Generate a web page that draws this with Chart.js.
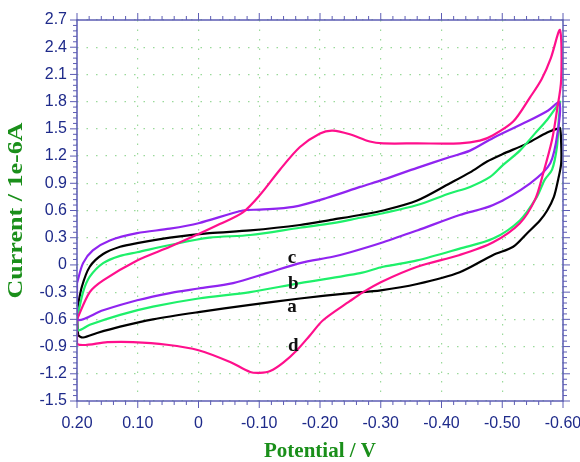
<!DOCTYPE html>
<html>
<head>
<meta charset="utf-8">
<script src="https://cdn.jsdelivr.net/npm/chart.js@4/dist/chart.umd.min.js"></script>
<style>
  body { margin: 0; background: #fff; }
  #wrap { width: 580px; height: 462px; position: relative; }
</style>
</head>
<body>
<div id="wrap"><canvas id="cv"></canvas></div>
<script>
'use strict'
// tick values
let xTicks = [0.2, 0.1, 0, -0.1, -0.2, -0.3, -0.4, -0.5, -0.6];
let yTicks = [-1.5, -1.2, -0.9, -0.6, -0.3, 0, 0.3, 0.6, 0.9, 1.2, 1.5, 1.8, 2.1, 2.4, 2.7];

// curve a (black)
let aV = [0.2, 0.192, 0.179, 0.157, 0.129, 0.101, 0.047, -0.018, -0.085, -0.167, -0.221, -0.266, -0.304, -0.36, -0.414, -0.447, -0.475, -0.5, -0.541, -0.574, -0.59, -0.595,
  -0.597, -0.597, -0.592, -0.585, -0.574, -0.562, -0.541, -0.518, -0.485, -0.43, -0.36, -0.3, -0.25, -0.167, -0.085, 0, 0.075, 0.129, 0.167, 0.19, 0.198, 0.2];
let aI = [-0.5, -0.24, -0.02, 0.12, 0.2, 0.24, 0.3, 0.35, 0.38, 0.44, 0.5, 0.55, 0.6, 0.71, 0.9, 1.02, 1.14, 1.22, 1.34, 1.46, 1.5, 1.51,
  1.34, 1.12, 0.94, 0.75, 0.6, 0.49, 0.35, 0.2, 0.11, -0.08, -0.21, -0.28, -0.31, -0.37, -0.44, -0.52, -0.6, -0.68, -0.75, -0.8, -0.77, -0.5];

// curve b (green)
let bV = [0.2, 0.19, 0.179, 0.157, 0.129, 0.101, 0.047, -0.018, -0.085, -0.167, -0.221, -0.266, -0.304, -0.36, -0.414, -0.447, -0.48, -0.501, -0.529, -0.554, -0.574, -0.59, -0.595,
  -0.593, -0.59, -0.582, -0.57, -0.557, -0.529, -0.485, -0.43, -0.36, -0.304, -0.266, -0.167, -0.085, 0, 0.075, 0.129, 0.179, 0.198, 0.2];
let bI = [-0.6, -0.3, -0.13, 0.02, 0.1, 0.14, 0.22, 0.3, 0.33, 0.41, 0.46, 0.52, 0.57, 0.66, 0.79, 0.86, 0.97, 1.1, 1.26, 1.45, 1.6, 1.75, 1.8,
  1.6, 1.3, 1.05, 0.94, 0.75, 0.49, 0.29, 0.18, 0.05, -0.02, -0.09, -0.2, -0.3, -0.37, -0.46, -0.55, -0.66, -0.72, -0.6];

// curve c (purple)
let cV = [0.2, 0.19, 0.174, 0.146, 0.101, 0.047, 0, -0.073, -0.101, -0.156, -0.212, -0.266, -0.304, -0.36, -0.414, -0.447, -0.485, -0.541, -0.575, -0.594,
  -0.592, -0.579, -0.546, -0.485, -0.43, -0.36, -0.304, -0.25, -0.221, -0.167, -0.113, -0.057, 0, 0.047, 0.101, 0.157, 0.2, 0.2];
let cI = [-0.2, 0.02, 0.16, 0.27, 0.35, 0.4, 0.46, 0.6, 0.61, 0.64, 0.74, 0.86, 0.94, 1.07, 1.19, 1.26, 1.4, 1.58, 1.7, 1.79,
  1.5, 1.12, 0.9, 0.66, 0.55, 0.38, 0.25, 0.14, 0.09, 0.02, -0.09, -0.2, -0.26, -0.31, -0.39, -0.5, -0.6, -0.2];

// curve d (magenta)
let dV = [0.2, 0.179, 0.157, 0.101, 0.047, 0, -0.035, -0.073, -0.101, -0.134, -0.167, -0.2, -0.221, -0.249, -0.282, -0.304, -0.36, -0.43, -0.463, -0.485, -0.518, -0.546, -0.565, -0.58, -0.595,
  -0.597, -0.59, -0.582, -0.567, -0.554, -0.529, -0.485, -0.43, -0.36, -0.3, -0.271, -0.249, -0.205, -0.183, -0.162, -0.139, -0.118, -0.101, -0.085, -0.052, 0, 0.052, 0.108, 0.15, 0.2, 0.2];
let dI = [-0.6, -0.3, -0.17, 0.05, 0.2, 0.34, 0.45, 0.58, 0.77, 1.05, 1.3, 1.45, 1.48, 1.44, 1.36, 1.34, 1.34, 1.34, 1.37, 1.43, 1.58, 1.85, 2.05, 2.28, 2.59,
  2.04, 1.7, 1.38, 1.0, 0.72, 0.46, 0.25, 0.11, -0.02, -0.19, -0.3, -0.4, -0.61, -0.78, -0.94, -1.08, -1.17, -1.19, -1.18, -1.07, -0.94, -0.88, -0.85, -0.85, -0.87, -0.6];

let curveNames = ['a', 'b', 'c', 'd'];
let xTitle = 'Potential / V';
let yTitle = 'Current / 1e-6A';

function pts(vs, is) {
  return vs.map(function (v, i) { return { x: v, y: is[i] }; });
}

let axisColor = '#5c5cb4';
let tickColor = '#1e2a8a';
let titleColor = '#1a8f1a';
let titleFont = 'bold 21px "Liberation Serif", "Times New Roman", serif';

// box + minor ticks + axis titles
let framePlugin = {
  id: 'frame',
  afterDraw(chart) {
    let ctx = chart.ctx;
    let ca = chart.chartArea;
    let x = chart.scales.x, y = chart.scales.y;
    ctx.save();
    ctx.strokeStyle = axisColor;
    ctx.lineWidth = 1.5;
    ctx.strokeRect(ca.left, ca.top, ca.right - ca.left, ca.bottom - ca.top);
    ctx.lineWidth = 1;
    ctx.beginPath();
    for (let k = -30; k <= 10; k++) {
      let px = x.getPixelForValue(k * 0.02);
      let len = (k % 5 === 0) ? 7 : 4;
      ctx.moveTo(px, ca.bottom); ctx.lineTo(px, ca.bottom + len);
      ctx.moveTo(px, ca.top); ctx.lineTo(px, ca.top - len);
    }
    for (let k = -25; k <= 45; k++) {
      let py = y.getPixelForValue(k * 0.06);
      let len = (k % 5 === 0) ? 7 : 4;
      ctx.moveTo(ca.left, py); ctx.lineTo(ca.left - len, py);
      ctx.moveTo(ca.right, py); ctx.lineTo(ca.right + len, py);
    }
    ctx.stroke();

    ctx.fillStyle = titleColor;
    ctx.font = titleFont;
    ctx.textAlign = 'center';
    ctx.textBaseline = 'middle';
    ctx.fillText(xTitle, (ca.left + ca.right) / 2, 452);
    ctx.translate(17, (ca.top + ca.bottom) / 2);
    ctx.rotate(-Math.PI / 2);
    ctx.scale(1.24, 1);
    ctx.fillText(yTitle, 0, 0);
    ctx.restore();
  }
};

// curve letters
let letterPos = { a: [-0.154, -0.47], b: [-0.156, -0.21], c: [-0.154, 0.08], d: [-0.156, -0.9] };
let letterPlugin = {
  id: 'letters',
  afterDatasetsDraw(chart) {
    let ctx = chart.ctx;
    let x = chart.scales.x, y = chart.scales.y;
    ctx.save();
    ctx.font = 'bold 19px "Liberation Serif", "Times New Roman", serif';
    ctx.fillStyle = '#111';
    ctx.textAlign = 'center';
    ctx.textBaseline = 'middle';
    curveNames.forEach(function (n) {
      let p = letterPos[n];
      ctx.fillText(n, x.getPixelForValue(p[0]), y.getPixelForValue(p[1]));
    });
    ctx.restore();
  }
};

function line(label, vs, is, color) {
  return {
    label: label,
    data: pts(vs, is),
    showLine: true,
    borderColor: color,
    backgroundColor: color,
    borderWidth: 2.2,
    pointRadius: 0,
    tension: 0.3,
    fill: false
  };
}

let ctx = document.getElementById('cv').getContext('2d');
let myChart = new Chart(ctx, {
  type: 'scatter',
  data: {
    datasets: [
      line('d', dV, dI, '#ff0f8c'),
      line('c', cV, cI, '#9024f0'),
      line('b', bV, bI, '#1ef06a'),
      line('a', aV, aI, '#000000')
    ]
  },
  options: {
    responsive: true,
    maintainAspectRatio: false,
    animation: false,
    layout: { padding: { top: 20, right: 17, left: 0, bottom: 0 } },
    plugins: { legend: { display: false }, tooltip: { enabled: false } },
    scales: {
      x: {
        type: 'linear',
        min: -0.6,
        max: 0.2,
        reverse: true,
        afterBuildTicks: function (s) { s.ticks = xTicks.map(function (v) { return { value: v }; }); },
        afterFit: function (s) { s.height = 61; s.paddingLeft = 0; s.paddingRight = 0; },
        grid: { color: '#9ad99a', lineWidth: 1.2, drawTicks: false },
        border: { display: false, dash: [1.5, 8] },
        ticks: {
          autoSkip: false,
          maxRotation: 0,
          padding: 13,
          color: tickColor,
          font: { family: '"Liberation Sans", Arial, sans-serif', size: 16 },
          callback: function (v) { return Math.abs(v) < 1e-9 ? '0' : v.toFixed(2); }
        },
        title: { display: false }
      },
      y: {
        type: 'linear',
        min: -1.5,
        max: 2.7,
        afterBuildTicks: function (s) { s.ticks = yTicks.map(function (v) { return { value: v }; }); },
        afterFit: function (s) { s.width = 77; s.paddingTop = 0; s.paddingBottom = 0; },
        grid: { color: '#9ad99a', lineWidth: 1.2, drawTicks: false },
        border: { display: false, dash: [1.5, 8] },
        ticks: {
          autoSkip: false,
          padding: 10,
          color: tickColor,
          font: { family: '"Liberation Sans", Arial, sans-serif', size: 16 },
          callback: function (v) { return Math.abs(v) < 1e-9 ? '0' : v.toFixed(1); }
        },
        title: { display: false }
      }
    }
  },
  plugins: [framePlugin, letterPlugin]
});
</script>
</body>
</html>
